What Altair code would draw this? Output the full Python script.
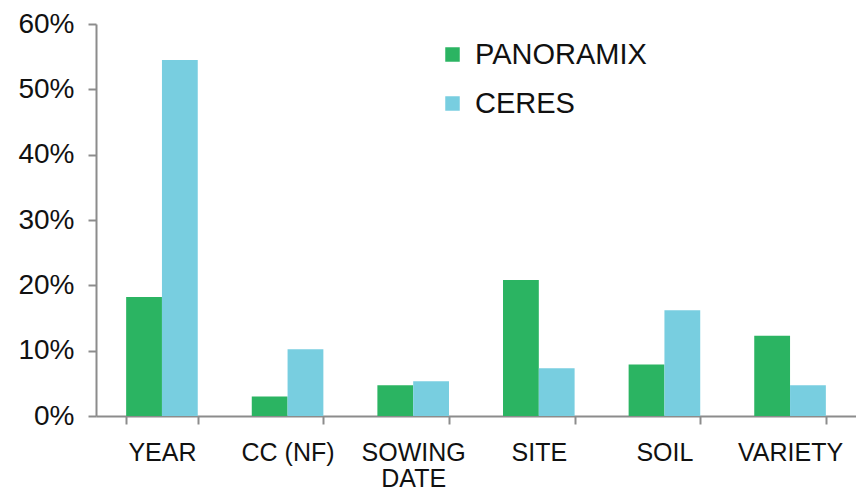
import altair as alt
import pandas as pd

categories = ["YEAR", "CC (NF)", "SOWING DATE", "SITE", "SOIL", "VARIETY"]
series = ["PANORAMIX", "CERES"]
panoramix = [18.2, 3.0, 4.7, 20.8, 7.9, 12.3]
ceres = [54.5, 10.2, 5.3, 7.3, 16.2, 4.7]
y_ticks = [0, 10, 20, 30, 40, 50, 60]
colors = ["#2BB462", "#78CEE0"]

rows = []
for c, p, r in zip(categories, panoramix, ceres):
    rows.append({"category": c, "series": "PANORAMIX", "value": p})
    rows.append({"category": c, "series": "CERES", "value": r})
df = pd.DataFrame(rows)

FONT = "Liberation Sans"
AXIS_COLOR = "#8C8C8C"
TEXT_COLOR = "#111111"

chart = alt.Chart(df).mark_bar().encode(
    x=alt.X(
        "category:N",
        sort=categories,
        scale=alt.Scale(paddingInner=0.43, paddingOuter=0.24),
        axis=alt.Axis(
            title=None,
            labelAngle=0,
            tickBand="extent",
            domainColor=AXIS_COLOR,
            domainWidth=2,
            tickColor=AXIS_COLOR,
            tickWidth=2,
            tickSize=8,
            labelFont=FONT,
            labelFontSize=25,
            labelColor=TEXT_COLOR,
            labelPadding=16,
            labelLineHeight=26,
            labelLimit=300,
            labelExpr="datum.label == 'SOWING DATE' ? ['SOWING', 'DATE'] : datum.label",
        ),
    ),
    xOffset=alt.XOffset("series:N", sort=series, scale=alt.Scale(paddingInner=0, paddingOuter=0)),
    y=alt.Y(
        "value:Q",
        scale=alt.Scale(domain=[0, 60], nice=False),
        axis=alt.Axis(
            title=None,
            values=y_ticks,
            grid=False,
            labelExpr="datum.value + '%'",
            domainColor=AXIS_COLOR,
            domainWidth=2,
            tickColor=AXIS_COLOR,
            tickWidth=2,
            tickSize=8,
            labelFont=FONT,
            labelFontSize=28,
            labelColor=TEXT_COLOR,
            labelPadding=14,
        ),
    ),
    color=alt.Color(
        "series:N",
        sort=series,
        scale=alt.Scale(domain=series, range=colors),
        legend=alt.Legend(
            title=None,
            orient="none",
            legendX=342,
            legendY=16,
            padding=0,
            symbolType="square",
            symbolSize=210,
            symbolStrokeWidth=0,
            labelFont=FONT,
            labelFontSize=29,
            labelColor=TEXT_COLOR,
            labelOffset=8,
            labelLimit=400,
            rowPadding=19,
        ),
    ),
).properties(
    width=760,
    height=392,
    padding={"left": 88, "top": 16, "right": 0, "bottom": 80},
    autosize=alt.AutoSizeParams(type="none"),
).configure_view(stroke=None)

chart.save("out.html", embed_options={"renderer": "svg", "actions": False})
